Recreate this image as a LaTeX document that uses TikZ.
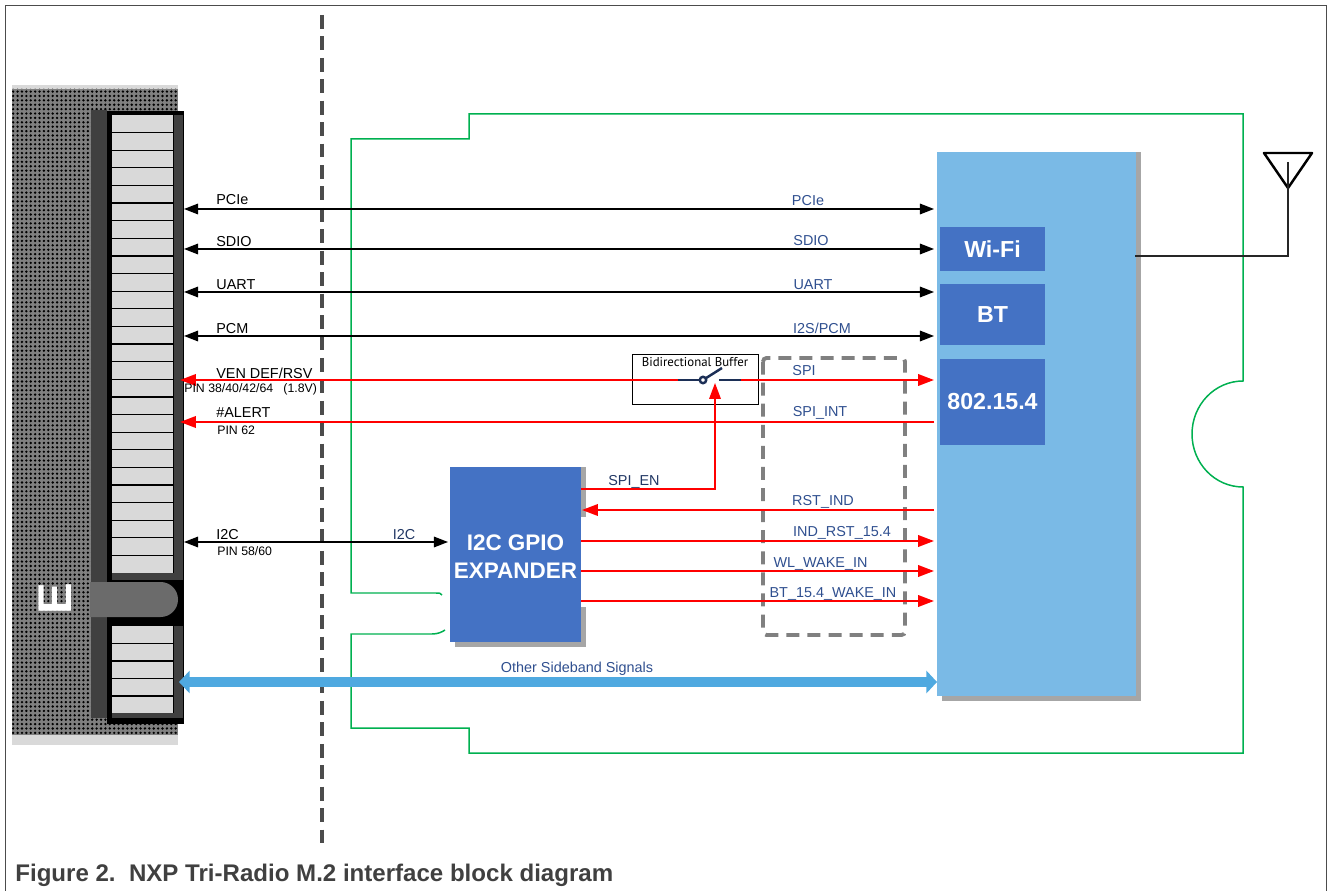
\documentclass[tikz,border=0pt]{standalone}
\usepackage{fontspec}
\setmainfont{Liberation Sans}
\newfontfamily\dinfont{PT Sans}
\usetikzlibrary{arrows.meta,patterns.meta}
\definecolor{blockblue}{HTML}{4472C4}
\definecolor{chipblue}{HTML}{7ABAE6}
\definecolor{busblue}{HTML}{4FA9E0}
\definecolor{labelblue}{HTML}{2F4F8F}
\definecolor{traceGreen}{HTML}{00B050}
\tikzset{
	blockbox/.style = {fill = blockblue, text = white, inner sep = 0pt, align = center, font = \fontsize{13.2}{16}\bfseries\selectfont},
	pinlabel/.style = {anchor = west, inner sep = 0pt, font = \fontsize{8.2}{10}\selectfont},
	pinsmall/.style = {anchor = west, inner sep = 0pt, font = \fontsize{7}{9}\selectfont},
	siglabel/.style = {inner sep = 0pt, text = labelblue, font = \fontsize{8.2}{10}\selectfont},
	blackbus/.style = {draw = black, line width = 0.85pt, {Triangle[length = 8pt, width = 6pt]}-{Triangle[length = 8pt, width = 6pt]}},
	redbus/.style = {draw = red, line width = 1.15pt},
	redtip/.style = {-{Triangle[length = 9pt, width = 6.5pt]}},
	shadowbox/.style = {fill = black!35},
	switchline/.style = {labelblue!60!black, line width = 1.4pt}
}
\begin{document}
\begin{tikzpicture} [x = 0.02cm, y = -0.02cm]
	\useasboundingbox (0,0) rectangle (1328,891);
	% page frame
	\draw [black!70, line width = 0.7pt] (5.5,891) -- (5.5,5.5) -- (1326.5,5.5) -- (1326.5,891);
	% m.2 socket
	\fill [black!15] (12,85) rectangle (178,745);
	\fill [black!50] (12,89) rectangle (178,735);
	\fill [pattern = {Dots[distance = 2.5pt, radius = 0.75pt]}, pattern color = black] (12,89) rectangle (178,735);
	\fill [black] (107,111) rectangle (184,724);
	\fill [black!75] (91,110) rectangle (107,718);
	\fill [black!75] (174,115) rectangle (183,578);
	\fill [black!75] (112,573) rectangle (183,580);
	\fill [black!75] (174,626) rectangle (183,718);
	\fill [black!75] (112,713) rectangle (183,718);
	\fill [black!15] (112,115) rectangle (173,573);
	\fill [black!15] (112,626) rectangle (173,713);
	\foreach \i in {1,...,25}
		\draw [black, line width = 0.7pt] (112,115+17.62*\i) -- (173,115+17.62*\i);
	\foreach \i in {1,...,4}
		\draw [black, line width = 0.7pt] (112,626+17.5*\i) -- (173,626+17.5*\i);
	\fill [black!58] (90,582) [rounded corners = 9.9pt] -- (178,582) -- (178,617) [sharp corners] -- (90,617) -- cycle;
	\node (keyE) [text = white, inner sep = 0pt, rotate = 90, font = \fontsize{27}{27}\bfseries\selectfont] at (55.5,599) {E};
	% divider
	\draw [black!70, line width = 2.6pt, dash pattern = on 7.9pt off 4.3pt] (322,15) -- (322,845);
	% card outline
	\draw [traceGreen, line width = 0.85pt] (442,595) .. controls (441,593) and (439,593) .. (436,593) -- (351,593) -- (351,139) -- (469,139) -- (469,114) -- (1243,114) -- (1243,381) arc [start angle = -90, end angle = -270, x radius = 51, y radius = 53] -- (1243,753) -- (469,753) -- (469,728) -- (351,728) -- (351,634) -- (432,634) .. controls (438,634) and (442,632) .. (445,630);
	% chip
	\fill [shadowbox] (942,152) rectangle (1141,701);
	\node (chip) [fill = chipblue, minimum width = 3.98cm, minimum height = 10.88cm, inner sep = 0pt] at (1036.5,424) {};
	\node (wifi) [blockbox, minimum width = 2.1cm, minimum height = 0.88cm] at (992.5,249) {Wi-Fi};
	\node (bt) [blockbox, minimum width = 2.1cm, minimum height = 1.22cm] at (992.5,314.5) {BT};
	\node (zigbee) [blockbox, minimum width = 2.1cm, minimum height = 1.72cm] at (992.5,402) {802.15.4};
	% expander
	\fill [shadowbox] (455,467) rectangle (586,517);
	\fill [shadowbox] (455,607) rectangle (586,647);
	\node (expander) [blockbox, minimum width = 2.62cm, minimum height = 3.5cm, font = \fontsize{12.8}{16}\bfseries\selectfont] at (515.5,554.5) {\rule{0pt}{11.5pt}I2C GPIO\\EXPANDER};
	% dashed group
	\draw [gray, line width = 2.2pt, dash pattern = on 7.4pt off 4.6pt, rounded corners = 2pt] (763,358) rectangle (905,635);
	% buffer
	\node (buffer) [draw = black, line width = 0.5pt, minimum width = 2.52cm, minimum height = 1cm, inner sep = 0pt] at (695,379) {};
	\node (bufname) [inner sep = 0pt, font = \dinfont\fontsize{7.3}{8}\selectfont] at (695,362) {Bidirectional Buffer};
	\coordinate (swa) at (678,380);
	\coordinate (swb) at (699.5,380);
	\coordinate (swc) at (719,380);
	\coordinate (swd) at (741,380);
	\coordinate (swtip) at (722,368);
	\coordinate (swhinge) at (703,380);
	% left ends and right ends of the signals
	\foreach \nm/\yy in {pcie/209, sdio/249, uart/292, pcm/336}
	{
		\coordinate (\nm L) at (184,\yy);
		\coordinate (\nm R) at (934,\yy);
		\draw [blackbus] (\nm L) -- (\nm R);
	}
	\coordinate (venL) at (180,380);
	\coordinate (spiR) at (934,380);
	\coordinate (alertL) at (180,422);
	\coordinate (alertR) at (934,422);
	\coordinate (i2cL) at (184,542);
	\coordinate (i2cR) at (448,542);
	\coordinate (enA) at (581,489);
	\coordinate (enB) at (715,489);
	\coordinate (enC) at (715,383);
	\coordinate (rstR) at (934,510);
	\coordinate (rstL) at (582,510);
	\coordinate (indL) at (581,541);
	\coordinate (indR) at (934,541);
	\coordinate (wlL) at (581,571);
	\coordinate (wlR) at (934,571);
	\coordinate (btL) at (581,601);
	\coordinate (btR) at (934,601);
	\coordinate (sideL) at (179,682);
	\coordinate (sideR) at (937,682);
	\draw [redbus, redtip] (swa) -- (venL);
	\draw [redbus, redtip] (swd) -- (spiR);
	\draw [redbus, redtip] (alertR) -- (alertL);
	\draw [blackbus] (i2cL) -- (i2cR);
	\draw [redbus, redtip, line width = 0.9pt] (enA) -- (enB) -- (enC);
	\draw [redbus, redtip] (rstR) -- (rstL);
	\draw [redbus, redtip] (indL) -- (indR);
	\draw [redbus, redtip] (wlL) -- (wlR);
	\draw [redbus, redtip] (btL) -- (btR);
	\draw [busblue, line width = 6.2pt, {Triangle[length = 6pt, width = 12.5pt]}-{Triangle[length = 6pt, width = 12.5pt]}] (sideL) -- (sideR);
	% switch
	\draw [switchline] (swa) -- (swb);
	\draw [switchline] (swc) -- (swd);
	\draw [switchline] (swhinge) -- (swtip);
	\draw [switchline, fill = white] (swhinge) circle (3.2);
	% antenna
	\coordinate (antA) at (1264,153);
	\coordinate (antB) at (1312,153);
	\coordinate (antC) at (1288,188);
	\coordinate (antD) at (1288,162);
	\coordinate (antE) at (1288,256);
	\coordinate (antF) at (1135,256);
	\draw [black, line width = 1.4pt, line join = round] (antA) -- (antB) -- (antC) -- cycle;
	\draw [black!85, line width = 0.8pt] (antD) -- (antE) -- (antF);
	% labels on the socket side
	\node (lblpcie) [pinlabel] at (216,200) {PCIe};
	\node (lblsdio) [pinlabel] at (216,242) {SDIO};
	\node (lbluart) [pinlabel] at (216,285) {UART};
	\node (lblpcm) [pinlabel] at (216,329) {PCM};
	\node (lblven) [pinlabel] at (216,373) {VEN DEF/RSV};
	\node (lblvenpin) [pinsmall] at (184,389) {PIN 38/40/42/64\ \ \ (1.8V)};
	\node (lblalert) [pinlabel] at (216,413) {\#ALERT};
	\node (lblalertpin) [pinsmall] at (217,430) {PIN 62};
	\node (lbli2c) [pinlabel] at (216,535) {I2C};
	\node (lbli2cpin) [pinsmall] at (217,551) {PIN 58/60};
	% labels on the card side
	\node (sigpcie) [siglabel] at (808,201) {PCIe};
	\node (sigsdio) [siglabel] at (811,241) {SDIO};
	\node (siguart) [siglabel] at (813,285) {UART};
	\node (sigpcm) [siglabel] at (822,328) {I2S/PCM};
	\node (sigspi) [siglabel] at (804,371) {SPI};
	\node (sigint) [siglabel] at (820,413) {SPI\_INT};
	\node (sigen) [siglabel, text = labelblue!70!black] at (634,482) {SPI\_EN};
	\node (sigrst) [siglabel] at (823,502) {RST\_IND};
	\node (sigind) [siglabel] at (842,533) {IND\_RST\_15.4};
	\node (sigwl) [siglabel] at (820.5,564) {WL\_WAKE\_IN};
	\node (sigbt) [siglabel] at (833,594) {BT\_15.4\_WAKE\_IN};
	\node (sigi2c) [siglabel, text = labelblue!70!black] at (404,535) {I2C};
	\node (sigside) [siglabel] at (577,669) {Other Sideband Signals};
	% caption
	\node (caption) [anchor = west, inner sep = 0pt, text = black!75, font = \fontsize{13.7}{16}\bfseries\selectfont] at (15,875) {Figure 2.\ \ NXP Tri-Radio M.2 interface block diagram};
\end{tikzpicture}
\end{document}
